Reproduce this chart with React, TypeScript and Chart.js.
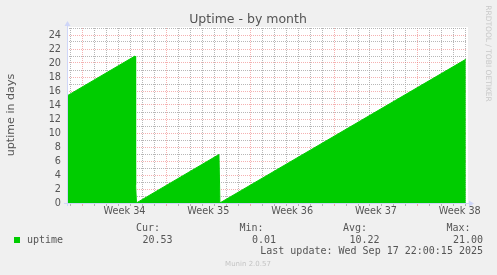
import { useEffect, useRef } from 'react';
import { Chart, registerables } from 'chart.js';

Chart.register(...registerables);

// Time axis: days since Monday 18 Aug 2025 00:00 (start of week 34)
const sampleDay = [-1.3, 4.38, 4.4, 4.46, 4.5, 11.39, 11.47, 32.0];
// Uptime in days at each sample
const uptimeDays = [15.3, 21.0, 2.8, 2.6, 0.01, 6.93, 0.01, 20.53];

const axisStart = -1.3;
const axisEnd = 32.1;
const weekStarts = [0, 7, 14, 21, 28];
const weekLabels = ['Week 34', 'Week 35', 'Week 36', 'Week 37', 'Week 38'];
const yTickValues = [0, 1, 2, 3, 4, 5, 6, 7, 8, 9, 10, 11, 12, 13, 14, 15, 16, 17, 18, 19, 20, 21, 22, 23, 24, 25];

const statHeads = ['Cur:', 'Min:', 'Avg:', 'Max:'];
const avgUptime = 10.22;
const lastUpdate = 'Last update: Wed Sep 17 22:00:15 2025';

const GREEN = '#00cc00';
const BACK = '#f0f0f0';
const FONT = '#555555';
const AXIS = '#cfd6f8';
const GRID = 'rgba(165,165,165,0.8)';
const MGRID = 'rgba(235,100,100,0.5)';
const SANS = "'DejaVu Sans', sans-serif";
const MONO = "'DejaVu Sans Mono', monospace";

const dayLines: number[] = [];
for (let d = Math.ceil(axisStart); d <= Math.floor(axisEnd); d++) dayLines.push(d);
const labelPositions = weekStarts.map((w) => w + 3.5);

const framePlugin = {
  id: 'muninFrame',
  beforeDraw(chart: Chart) {
    const { ctx, chartArea: a } = chart;
    ctx.save();
    ctx.fillStyle = BACK;
    ctx.fillRect(0, 0, chart.width, chart.height);
    ctx.fillStyle = '#ffffff';
    ctx.fillRect(a.left, a.top - 1, a.right - a.left + 1, a.bottom - a.top + 1);
    ctx.restore();
  },
  afterDraw(chart: Chart) {
    const { ctx, chartArea: a } = chart;
    ctx.save();

    // axes with arrow heads
    ctx.strokeStyle = AXIS;
    ctx.fillStyle = AXIS;
    ctx.lineWidth = 1;
    ctx.beginPath();
    ctx.moveTo(a.left + 0.5, a.bottom + 3);
    ctx.lineTo(a.left + 0.5, a.top - 3);
    ctx.moveTo(a.left - 3, a.bottom + 0.5);
    ctx.lineTo(a.right + 3, a.bottom + 0.5);
    ctx.stroke();
    ctx.beginPath();
    ctx.moveTo(a.left - 2.5, a.top - 2);
    ctx.lineTo(a.left + 3.5, a.top - 2);
    ctx.lineTo(a.left + 0.5, a.top - 7);
    ctx.closePath();
    ctx.fill();
    ctx.beginPath();
    ctx.moveTo(a.right + 2, a.bottom - 2.5);
    ctx.lineTo(a.right + 2, a.bottom + 3.5);
    ctx.lineTo(a.right + 7, a.bottom + 0.5);
    ctx.closePath();
    ctx.fill();

    // title
    ctx.fillStyle = FONT;
    ctx.font = `12.5px ${SANS}`;
    ctx.textAlign = 'center';
    ctx.textBaseline = 'alphabetic';
    ctx.fillText('Uptime - by month', 248, 22.7);

    // vertical axis title
    ctx.save();
    ctx.translate(11.5, 115);
    ctx.rotate(-Math.PI / 2);
    ctx.font = `11.1px ${SANS}`;
    ctx.textBaseline = 'middle';
    ctx.fillText('uptime in days', 0, 0);
    ctx.restore();

    // watermark
    ctx.save();
    ctx.translate(488, 53.5);
    ctx.rotate(Math.PI / 2);
    ctx.fillStyle = '#c8c8c8';
    ctx.font = `7.5px ${SANS}`;
    ctx.textAlign = 'center';
    ctx.textBaseline = 'middle';
    ctx.fillText('RRDTOOL / TOBI OETIKER', 0, 0);
    ctx.restore();

    // legend
    ctx.fillStyle = GREEN;
    ctx.fillRect(14, 237, 6, 6);
    ctx.fillStyle = FONT;
    ctx.font = `10px ${MONO}`;
    ctx.textBaseline = 'middle';
    ctx.textAlign = 'left';
    ctx.fillText('uptime', 27, 240);

    const cur = uptimeDays[uptimeDays.length - 1];
    const min = Math.min(...uptimeDays);
    const max = Math.max(...uptimeDays);
    const statValues = [cur, min, avgUptime, max];
    const headRight = [160, 263.5, 367, 470.5];
    const valueRight = [172.5, 276, 379.5, 483];
    ctx.textAlign = 'right';
    statHeads.forEach((h, i) => {
      ctx.fillText(h, headRight[i], 228.5);
      ctx.fillText(statValues[i].toFixed(2), valueRight[i], 240.5);
    });
    ctx.fillText(lastUpdate, 483, 251.5);

    ctx.fillStyle = '#c4c4c4';
    ctx.font = `7px ${SANS}`;
    ctx.textAlign = 'center';
    ctx.fillText('Munin 2.0.57', 248, 264.5);

    ctx.restore();
  },
};

export default function App() {
  const canvasRef = useRef<HTMLCanvasElement | null>(null);

  useEffect(() => {
    const canvas = canvasRef.current;
    if (!canvas) return;
    const chart = new Chart(canvas, {
      type: 'line',
      data: {
        datasets: [
          {
            label: 'uptime',
            data: sampleDay.map((x, i) => ({ x, y: uptimeDays[i] })),
            borderColor: GREEN,
            backgroundColor: GREEN,
            borderWidth: 1,
            fill: 'origin',
            pointRadius: 0,
            tension: 0,
          },
        ],
      },
      options: {
        responsive: false,
        animation: false,
        devicePixelRatio: 1,
        layout: { padding: { left: 0, top: 28, right: 30, bottom: 52 } },
        plugins: { legend: { display: false }, tooltip: { enabled: false }, title: { display: false } },
        scales: {
          x: {
            type: 'linear',
            min: axisStart,
            max: axisEnd,
            afterBuildTicks: (scale: any) => {
              scale.ticks = [...dayLines, ...labelPositions].sort((p, q) => p - q).map((value) => ({ value }));
            },
            afterFit: (scale: any) => {
              scale.height = 20;
            },
            ticks: {
              autoSkip: false,
              maxRotation: 0,
              padding: 0,
              color: FONT,
              font: { family: SANS, size: 9.7 },
              callback: (value: any) => {
                const i = labelPositions.indexOf(Number(value));
                return i >= 0 ? weekLabels[i] : '';
              },
            },
            grid: {
              lineWidth: 1,
              tickLength: 3,
              color: (ctx: any) => {
                const v = ctx.tick?.value;
                if (!Number.isInteger(v)) return 'rgba(0,0,0,0)';
                return weekStarts.includes(v) ? MGRID : GRID;
              },
              tickColor: (ctx: any) => {
                const v = ctx.tick?.value;
                if (!Number.isInteger(v)) return 'rgba(0,0,0,0)';
                return weekStarts.includes(v) ? MGRID : GRID;
              },
            },
            border: { display: false, dash: [1, 1] },
          },
          y: {
            type: 'linear',
            min: 0,
            max: 25,
            afterBuildTicks: (scale: any) => {
              scale.ticks = yTickValues.map((value) => ({ value }));
            },
            afterFit: (scale: any) => {
              scale.width = 67;
            },
            ticks: {
              autoSkip: false,
              padding: 6,
              color: FONT,
              font: { family: SANS, size: 9.7 },
              callback: (value: any) => {
                const v = Number(value);
                return v % 2 === 0 && v <= 24 ? String(v) : '';
              },
            },
            grid: {
              drawTicks: false,
              lineWidth: 1,
              color: (ctx: any) => (ctx.tick?.value % 2 === 0 ? MGRID : GRID),
            },
            border: { display: false, dash: [1, 1] },
          },
        },
      },
      plugins: [framePlugin],
    });
    return () => chart.destroy();
  }, []);

  return (
    <canvas
      ref={canvasRef}
      width={497}
      height={275}
      style={{ position: 'fixed', left: 0, top: 0, width: 497, height: 275 }}
    />
  );
}
